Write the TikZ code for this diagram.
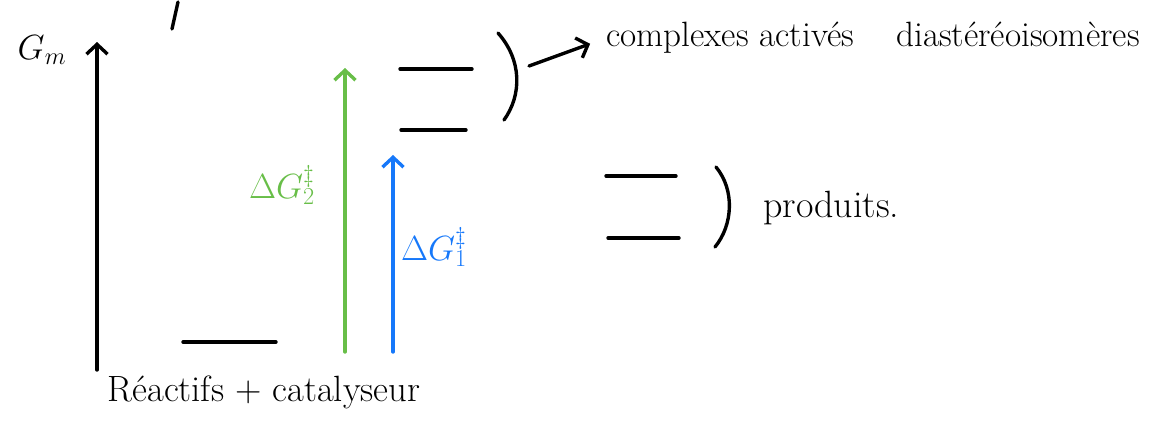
\documentclass[tikz,border=0pt]{standalone}
\usetikzlibrary{arrows.meta, positioning}

\definecolor{vert}{RGB}{104,190,72}
\definecolor{bleu}{RGB}{22,120,250}

\begin{document}
\begin{tikzpicture}[
    x=0.025cm, y=-0.025cm,
    trait/.style={line width=2.4pt, line cap=round},
    niveau/.style={trait, black},
    fleche/.style={trait, -{Straight Barb[length=7pt, width=15pt, line width=2.4pt]}},
    txt/.style={font=\fontsize{25}{30}\selectfont, inner sep=0pt},
    lab/.style={font=\fontsize{26}{30}\selectfont, inner sep=0pt}
]
\useasboundingbox (0,0) rectangle (1160,429);

% ============================================================
% Axe des energies
% ============================================================
\coordinate (ax0) at (97,370);
\coordinate (ax1) at (97,42);
\draw[fleche] (ax0) -- (ax1);
\node[lab] (gm) at (42,50) {$G_m$};
\coordinate (t0) at (172,29);
\coordinate (t1) at (178,2);
\draw[trait] (t0) -- (t1);

% ============================================================
% Reactifs + catalyseur
% ============================================================
\coordinate (r0) at (183,342);
\coordinate (r1) at (276,342);
\draw[niveau] (r0) -- (r1);
\node[txt, font=\fontsize{26}{30}\selectfont] (reac) at (264,392) {Réactifs + catalyseur};

% ============================================================
% Complexes actives
% ============================================================
\coordinate (ca0) at (400,69);
\coordinate (ca1) at (472,69);
\coordinate (cb0) at (401,130);
\coordinate (cb1) at (466,130);
\draw[niveau] (ca0) -- (ca1);
\draw[niveau] (cb0) -- (cb1);
\coordinate (pa0) at (498,33);
\coordinate (pa1) at (504,120);
\draw[trait] (pa0) .. controls (522,60) and (522,95) .. (pa1);
\node[txt, anchor=west] (cplx) at (606,38) {complexes activés\hspace{1.2em}diastéréoisomères};
\coordinate (fa) at (529,66);
\draw[fleche, shorten >=12pt] (fa) -- (cplx.west);

% ============================================================
% Produits
% ============================================================
\coordinate (pr0) at (606,176);
\coordinate (pr1) at (676,176);
\coordinate (ps0) at (608,238);
\coordinate (ps1) at (679,238);
\draw[niveau] (pr0) -- (pr1);
\draw[niveau] (ps0) -- (ps1);
\coordinate (pb0) at (716,167);
\coordinate (pb1) at (715,247);
\draw[trait] (pb0) .. controls (735,190) and (733,225) .. (pb1);
\node[txt, anchor=west, font=\fontsize{27}{30}\selectfont] (prod) at (763,208) {produits.};

% ============================================================
% Energies d'activation
% ============================================================
\coordinate (g0) at (345,352);
\coordinate (g1) at (345,68);
\draw[fleche, vert] (g0) -- (g1);
\node[lab, vert] (dg2) at (282,185) {$\Delta G^{\ddagger}_{2}$};

\coordinate (b0) at (393,352);
\coordinate (b1) at (393,155);
\draw[fleche, bleu] (b0) -- (b1);
\node[lab, bleu] (dg1) at (434,247) {$\Delta G^{\ddagger}_{1}$};

\end{tikzpicture}
\end{document}
